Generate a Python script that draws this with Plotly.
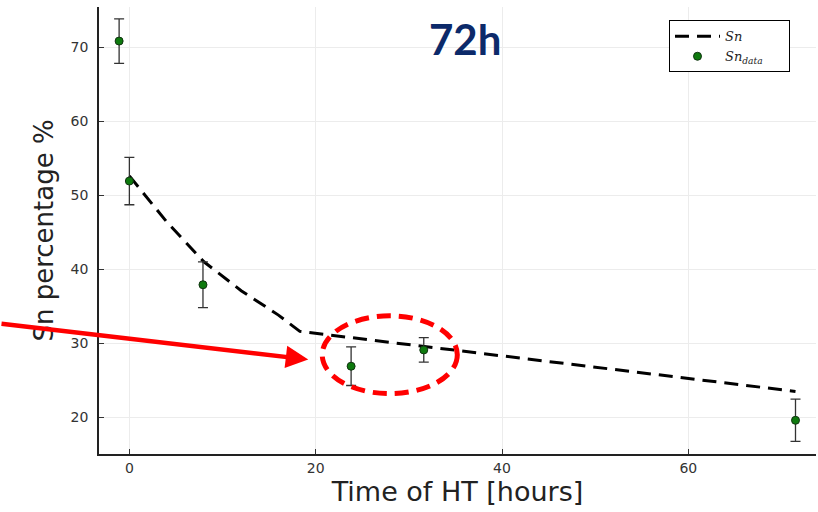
import plotly.graph_objects as go

# data
hours_data = [-1.1, 0, 7.9, 23.8, 31.6, 71.5]
sn_data = [70.8, 51.9, 37.9, 26.9, 29.1, 19.6]
sn_err = [3.0, 3.2, 3.1, 2.6, 1.65, 2.85]

hours_model = [0, 4, 8, 12, 16, 18.3, 71.5]
sn_model = [52.6, 46.4, 41.0, 37.1, 33.8, 31.6, 23.5]

x_ticks = [0, 20, 40, 60]
y_ticks = [20, 30, 40, 50, 60, 70]

fig = go.Figure()
fig.add_trace(go.Scatter(
    x=hours_model, y=sn_model, mode="lines", name="<i>Sn</i>",
    line=dict(color="black", width=3, dash="14px,8px"),
))
fig.add_trace(go.Scatter(
    x=hours_data, y=sn_data, mode="markers",
    name="<i>Sn</i><sub><i>data</i></sub>&nbsp;&nbsp;&nbsp;&nbsp;&nbsp;",
    marker=dict(color="#0e7a0e", size=8, line=dict(color="#113311", width=1)),
    error_y=dict(type="data", array=sn_err, visible=True, color="#333333", thickness=1.3, width=5),
))

# highlight ellipse and arrow
fig.add_shape(type="circle", xref="x", yref="y", x0=20.7, x1=35.2, y0=23.2, y1=33.7,
              line=dict(color="#ff0000", width=5, dash="14px,8px"))
fig.add_annotation(x=19.2, y=27.8, xref="x", yref="y", ax=-312, ay=-36,
                   axref="pixel", ayref="pixel", showarrow=True, arrowhead=2,
                   arrowsize=1.0, arrowwidth=4.5, arrowcolor="#ff0000", text="")
fig.add_annotation(x=0.51, y=0.928, xref="paper", yref="paper", text="<b>72h</b>", showarrow=False,
                   font=dict(family="Lato", size=42, color="#0c2a6a"), xanchor="center", yanchor="middle")

fig.update_layout(
    width=818, height=512,
    margin=dict(l=99, r=2, t=7, b=58),
    paper_bgcolor="white", plot_bgcolor="white",
    showlegend=True,
    legend=dict(x=0.795, y=0.97, xanchor="left", yanchor="top",
                bordercolor="black", borderwidth=1, bgcolor="white",
                font=dict(family="DejaVu Serif", size=13, color="#222"),
                tracegroupgap=0, itemwidth=45),
    font=dict(family="DejaVu Sans", color="#333"),
)
fig.update_xaxes(range=[-3.26, 73.7], tickvals=x_ticks, ticks="inside", ticklen=5,
                 tickcolor="#333", showline=True, linecolor="#222", linewidth=1.5,
                 showgrid=True, gridcolor="#ececec", gridwidth=1, zeroline=False,
                 tickfont=dict(size=14, color="#333"),
                 title=dict(text="Time of HT [hours]", font=dict(size=27, color="#222"), standoff=7))
fig.update_yaxes(range=[15.05, 75.4], tickvals=y_ticks, ticks="inside", ticklen=5,
                 tickcolor="#333", showline=True, linecolor="#222", linewidth=1.5,
                 showgrid=True, gridcolor="#ececec", gridwidth=1, zeroline=False,
                 tickfont=dict(size=14, color="#333"), ticklabelstandoff=6,
                 title=dict(text="Sn percentage %", font=dict(size=26, color="#222"), standoff=10))

fig.write_html("out.html")
